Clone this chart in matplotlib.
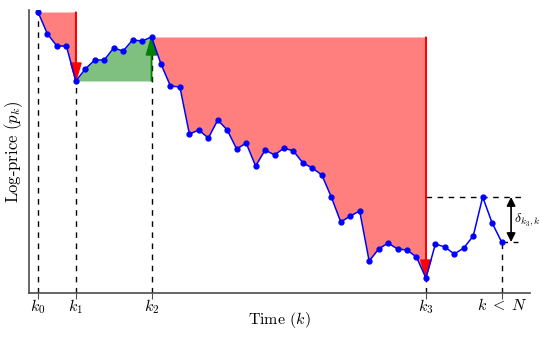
import matplotlib.pyplot as plt
import numpy as np

plt.rcParams['font.family'] = 'serif'
plt.rcParams['font.serif'] = ['cmr10']
plt.rcParams['mathtext.fontset'] = 'cm'
plt.rcParams['axes.formatter.use_mathtext'] = True

# log-price path (arbitrary units)
price = [28.1, 25.9, 24.7, 24.7, 21.2, 22.4, 23.3, 23.3, 24.5, 24.2,
         25.3, 25.2, 25.6, 22.9, 20.7, 20.6, 15.9, 16.3, 15.5, 17.3,
         16.3, 14.4, 15.0, 12.7, 14.3, 13.8, 14.5, 14.2, 13.0, 12.5,
         11.8, 9.6, 7.1, 7.7, 8.2, 3.2, 4.4, 5.0, 4.4, 4.3,
         3.6, 1.5, 4.9, 4.6, 3.9, 4.5, 5.7, 9.6, 7.0, 5.1]
key_steps = [0, 4, 12, 41, 49]
key_labels = ['$k_0$', '$k_1$', '$k_2$', '$k_3$', r'$k\;<\;N$']
peak_step = 47

k = np.arange(len(price))
p = np.array(price)
k0, k1, k2, k3, kn = key_steps

fig = plt.figure(figsize=(5.4, 3.38), dpi=100)
ax = fig.add_axes([29 / 540, 1 - 293 / 338, 501 / 540, 283 / 338])

# drawdown / run-up areas
ax.fill_between(k[k0:k1 + 1], p[k0], p[k0:k1 + 1], color='red', alpha=0.5, lw=0)
ax.fill_between(k[k1:k2 + 1], p[k1], p[k1:k2 + 1], color='green', alpha=0.5, lw=0)
ax.fill_between(k[k2:k3 + 1], p[k2], p[k2:k3 + 1], color='red', alpha=0.5, lw=0)

# dashed guides down to the time axis
for s in key_steps:
    ax.plot([s, s], [0, p[s]], ls='--', color='k', lw=1, dashes=(4, 4), zorder=1)

# arrows for each move
hw, hl = 1.1, 1.8
ax.arrow(k1, p[k0], 0, p[k1] - p[k0], color='red', width=0.04, head_width=hw,
         head_length=hl, length_includes_head=True, zorder=3)
ax.arrow(k2, p[k1], 0, p[k2] - p[k1], color='green', width=0.04, head_width=hw,
         head_length=hl, length_includes_head=True, zorder=3)
ax.arrow(k3, p[k2], 0, p[k3] - p[k2], color='red', width=0.04, head_width=hw,
         head_length=hl, length_includes_head=True, zorder=3)

ax.plot(k, p, color='blue', lw=1.1, marker='o', ms=3.5, zorder=4)

# recovery distance delta
ax.plot([k3, 51.1], [p[peak_step], p[peak_step]], ls='--', color='k', lw=1, dashes=(4, 4))
ax.plot([kn, 50.7], [p[kn], p[kn]], ls='--', color='k', lw=1, dashes=(4, 4))
ax.annotate('', xy=(50, p[kn]), xytext=(50, p[peak_step]),
            arrowprops=dict(arrowstyle='<|-|>', color='k', lw=1.2,
                            mutation_scale=13, shrinkA=0, shrinkB=0))
ax.text(50.3, (p[kn] + p[peak_step]) / 2, r'$\delta_{k_3,k}$', fontsize=10,
        va='center', ha='left')

ax.set_xlim(-0.95, 52.0)
ax.set_ylim(0, 28.3)
ax.set_xticks(key_steps)
ax.set_xticklabels(key_labels, fontsize=11.5)
ax.set_yticks([])
ax.tick_params(axis='x', length=4, width=0.8, pad=-1, color='0.3')
ax.spines['top'].set_visible(False)
ax.spines['right'].set_visible(False)
for side in ['left', 'bottom']:
    ax.spines[side].set_color('0.3')
    ax.spines[side].set_linewidth(1.2)
ax.set_xlabel('Time ($k$)', fontsize=11.5, labelpad=-4)
ax.set_ylabel('Log-price ($p_k$)', fontsize=12, labelpad=3)

fig.savefig('out.png', dpi=100)
